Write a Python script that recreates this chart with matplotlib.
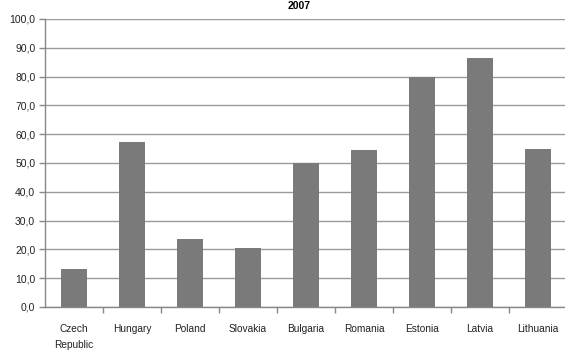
import matplotlib
matplotlib.use('Agg')
import matplotlib.pyplot as plt
import numpy as np

countries = ['Czech\nRepublic', 'Hungary', 'Poland', 'Slovakia', 'Bulgaria',
             'Romania', 'Estonia', 'Latvia', 'Lithuania']
values = [13.1, 57.2, 23.7, 20.5, 49.9, 54.4, 80.0, 86.3, 54.8]

plt.rcParams['font.family'] = ['Liberation Sans', 'DejaVu Sans']

fig = plt.figure(figsize=(5.65, 3.54), dpi=100)
fig.patch.set_facecolor('white')
ax = fig.add_axes([45 / 565, 1 - 307 / 354, 522 / 565, 288 / 354])

x = np.arange(len(countries))
ax.bar(x, values, width=0.44, color='#7a7a7a', zorder=3)

ax.set_xlim(-0.5, len(countries) - 0.5)
ax.set_ylim(0, 100)
ax.set_yticks(np.arange(0, 101, 10))
ax.set_yticklabels([f'{v:.1f}'.replace('.', ',') for v in np.arange(0, 101, 10)],
                   fontsize=7.5, color='#222222')
ax.yaxis.grid(True, color='#9a9a9a', linewidth=1, zorder=0)

ax.set_xticks(x)
ax.set_xticklabels(countries, fontsize=7.3, color='#222222', linespacing=1.8)
ax.tick_params(axis='x', length=0, pad=12)
ax.set_xticks(np.arange(0.5, len(countries) - 0.5 + 0.01, 1), minor=True)
ax.tick_params(axis='x', which='minor', length=4, color='#888888', width=1)
ax.tick_params(axis='y', length=4, color='#888888', width=1, pad=3)

for s in ['top', 'right']:
    ax.spines[s].set_visible(False)
for s in ['left', 'bottom']:
    ax.spines[s].set_color('#888888')
    ax.spines[s].set_linewidth(1)

fig.text(0.53, 1 - 1 / 354, '2007', fontsize=7.5, fontweight='bold',
         ha='center', va='top')

fig.savefig('out.png', dpi=100, facecolor='white')
